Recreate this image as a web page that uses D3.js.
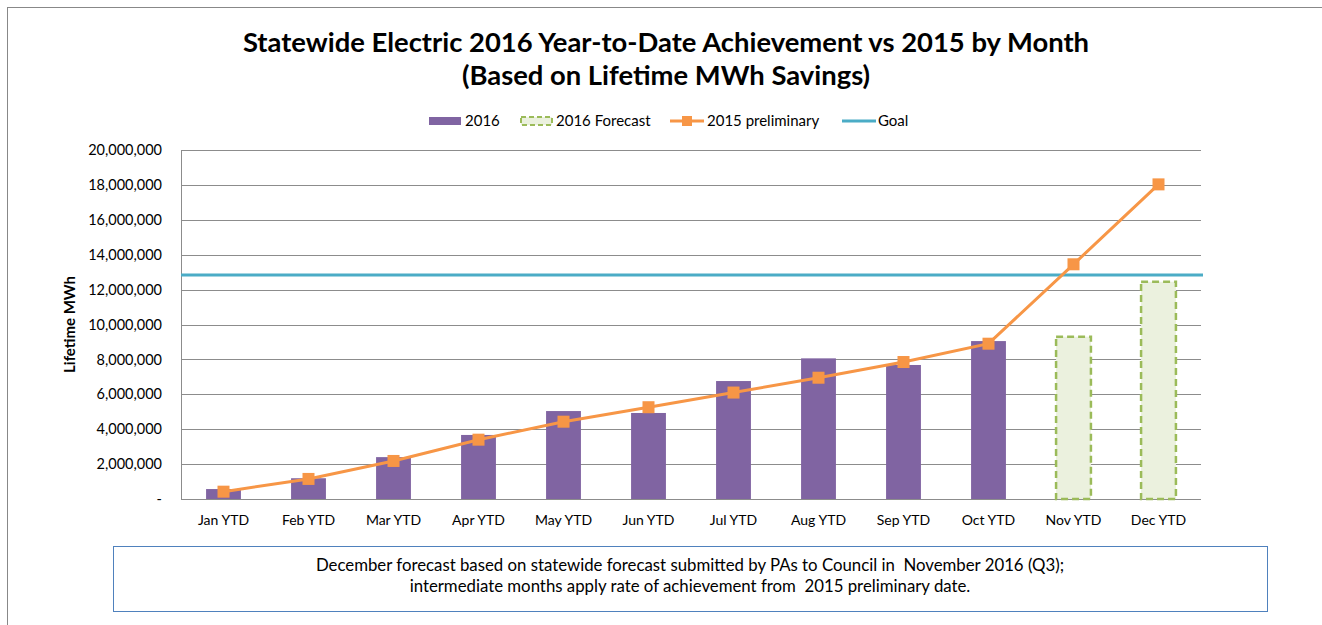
<!DOCTYPE html>
<html lang="en">
<head>
    <meta charset="UTF-8">
    <title>Statewide Electric 2016 YTD</title>
    <script src="https://d3js.org/d3.v7.min.js"></script>
    <style>
        body { margin: 0; background: #fff; }
        text { font-family: Lato, "Open Sans", sans-serif; fill: #000; white-space: pre; }
    </style>
</head>
<body>
<svg width="1322" height="625"></svg>
<script>
    var months = ['Jan YTD','Feb YTD','Mar YTD','Apr YTD','May YTD','Jun YTD','Jul YTD','Aug YTD','Sep YTD','Oct YTD','Nov YTD','Dec YTD'];
    var actual2016 = [570000, 1190000, 2400000, 3670000, 5040000, 4930000, 6760000, 8060000, 7680000, 9050000, null, null];
    var forecast2016 = [null, null, null, null, null, null, null, null, null, null, 9300000, 12450000];
    var prelim2015 = [420000, 1150000, 2180000, 3400000, 4430000, 5260000, 6100000, 6950000, 7850000, 8900000, 13450000, 18030000];
    var goal = 12840000;
    var yTicks = [0, 2000000, 4000000, 6000000, 8000000, 10000000, 12000000, 14000000, 16000000, 18000000, 20000000];

    var svg = d3.select('svg');
    var pLeft = 181, pRight = 1201, pTop = 150, pBottom = 499;

    // chart frame
    svg.append('rect').attr('x', 7.5).attr('y', 7.5).attr('width', 1330).attr('height', 640)
        .attr('fill', 'none').attr('stroke', '#888').attr('stroke-width', 1);

    var x = d3.scaleBand().domain(months).range([pLeft, pRight]).paddingInner(0.59).paddingOuter(0.295);
    var xc = function (m) { return x(m) + x.bandwidth() / 2; };
    var y = d3.scaleLinear().domain([0, 20000000]).range([pBottom, pTop]);

    // gridlines
    svg.append('g').selectAll('line').data(yTicks).enter().append('line')
        .attr('x1', pLeft).attr('x2', pRight)
        .attr('y1', function (d) { return Math.round(y(d)) + 0.5; })
        .attr('y2', function (d) { return Math.round(y(d)) + 0.5; })
        .attr('stroke', '#8c8c8c').attr('stroke-width', 1);
    svg.append('line').attr('x1', pLeft + 0.5).attr('x2', pLeft + 0.5).attr('y1', pTop).attr('y2', pBottom)
        .attr('stroke', '#8c8c8c');

    // y axis labels
    var yAxis = d3.axisLeft(y).tickValues(yTicks).tickSize(0).tickPadding(19)
        .tickFormat(function (d) { return d === 0 ? '-' : d3.format(',')(d); });
    var ya = svg.append('g').attr('transform', 'translate(' + pLeft + ',0)').call(yAxis);
    ya.select('.domain').remove();
    ya.selectAll('text').style('font-size', '14.5px').style('font-family', 'Lato, sans-serif');

    svg.append('text').attr('transform', 'translate(75,' + (pTop + pBottom) / 2 + ') rotate(-90)')
        .attr('text-anchor', 'middle').style('font-size', '15px').style('font-weight', 'bold')
        .text('Lifetime MWh');

    // x axis labels
    var xAxis = d3.axisBottom(x).tickSize(0).tickPadding(16);
    var xa = svg.append('g').attr('transform', 'translate(0,' + pBottom + ')').call(xAxis);
    xa.select('.domain').remove();
    xa.selectAll('text').style('font-size', '14px').style('font-family', 'Lato, sans-serif');

    // 2016 bars
    svg.append('g').selectAll('rect').data(months.filter(function (m, i) { return actual2016[i] !== null; }))
        .enter().append('rect')
        .attr('x', function (m) { return x(m); })
        .attr('width', x.bandwidth())
        .attr('y', function (m) { return y(actual2016[months.indexOf(m)]); })
        .attr('height', function (m) { return pBottom - y(actual2016[months.indexOf(m)]); })
        .attr('fill', '#8064a2');

    // forecast bars
    svg.append('g').selectAll('rect').data(months.filter(function (m, i) { return forecast2016[i] !== null; }))
        .enter().append('rect')
        .attr('x', function (m) { return x(m); })
        .attr('width', x.bandwidth())
        .attr('y', function (m) { return y(forecast2016[months.indexOf(m)]); })
        .attr('height', function (m) { return pBottom - y(forecast2016[months.indexOf(m)]); })
        .attr('fill', '#ebf1de').attr('stroke', '#9bbb59').attr('stroke-width', 2.5)
        .attr('stroke-dasharray', '7,4');

    // goal line
    svg.append('line').attr('x1', pLeft).attr('x2', pRight + 2)
        .attr('y1', y(goal)).attr('y2', y(goal))
        .attr('stroke', '#4bacc6').attr('stroke-width', 3);

    // 2015 preliminary line
    var line = d3.line().x(function (d, i) { return xc(months[i]); }).y(function (d) { return y(d); });
    svg.append('path').datum(prelim2015).attr('d', line)
        .attr('fill', 'none').attr('stroke', '#f79646').attr('stroke-width', 3);
    svg.append('g').selectAll('rect').data(prelim2015).enter().append('rect')
        .attr('x', function (d, i) { return xc(months[i]) - 6; })
        .attr('y', function (d) { return y(d) - 6; })
        .attr('width', 12).attr('height', 12)
        .attr('fill', '#f79646');

    // title
    svg.append('text').attr('x', 666).attr('y', 52).attr('text-anchor', 'middle')
        .style('font-size', '27.4px').style('font-weight', 'bold')
        .text('Statewide Electric 2016 Year-to-Date Achievement vs 2015 by Month');
    svg.append('text').attr('x', 666).attr('y', 85).attr('text-anchor', 'middle')
        .style('font-size', '27.4px').style('font-weight', 'bold')
        .text('(Based on Lifetime MWh Savings)');

    // legend
    var lg = svg.append('g').attr('transform', 'translate(0,121)');
    lg.append('rect').attr('x', 429).attr('y', -4).attr('width', 32).attr('height', 8).attr('fill', '#8064a2');
    lg.append('text').attr('x', 465).attr('y', 5).style('font-size', '15px').text('2016');
    lg.append('rect').attr('x', 521).attr('y', -4).attr('width', 31).attr('height', 8)
        .attr('fill', '#ebf1de').attr('stroke', '#9bbb59').attr('stroke-width', 2).attr('stroke-dasharray', '5,3');
    lg.append('text').attr('x', 556).attr('y', 5).style('font-size', '15px').text('2016 Forecast');
    lg.append('line').attr('x1', 670).attr('x2', 704).attr('y1', 0).attr('y2', 0)
        .attr('stroke', '#f79646').attr('stroke-width', 3);
    lg.append('rect').attr('x', 682).attr('y', -5).attr('width', 10).attr('height', 10).attr('fill', '#f79646');
    lg.append('text').attr('x', 707).attr('y', 5).style('font-size', '15px').text('2015 preliminary');
    lg.append('line').attr('x1', 842).attr('x2', 876).attr('y1', 0).attr('y2', 0)
        .attr('stroke', '#4bacc6').attr('stroke-width', 3);
    lg.append('text').attr('x', 878).attr('y', 5).style('font-size', '15px').text('Goal');

    // note box
    svg.append('rect').attr('x', 113.5).attr('y', 546.5).attr('width', 1154).attr('height', 65)
        .attr('fill', '#fff').attr('stroke', '#4f81bd').attr('stroke-width', 1);
    svg.append('text').attr('x', 690).attr('y', 571).attr('text-anchor', 'middle').style('font-size', '16.8px')
        .text('December forecast based on statewide forecast submitted by PAs to Council in  November 2016 (Q3);');
    svg.append('text').attr('x', 690).attr('y', 592).attr('text-anchor', 'middle').style('font-size', '16.8px')
        .text('intermediate months apply rate of achievement from  2015 preliminary date.');
</script>
</body>
</html>
